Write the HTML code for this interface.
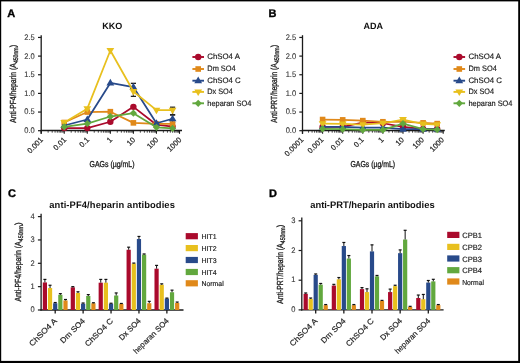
<!DOCTYPE html>
<html><head><meta charset="utf-8"><style>
html,body{margin:0;padding:0;background:#fff;width:520px;height:363px;overflow:hidden}
svg{display:block;will-change:transform;filter:blur(0.3px)}
text{font-family:"Liberation Sans",sans-serif;stroke:currentColor;stroke-width:0.18px;color:#222;text-rendering:geometricPrecision}
text[font-weight=bold]{stroke:none}
text.c{stroke-width:0.32px}
text.t{stroke-width:0.1px;color:#333}
</style></head><body>
<svg width="520" height="363" viewBox="0 0 520 363">
<rect x="0" y="0" width="520" height="363" fill="#000"/>
<rect x="1.2" y="1.4" width="517" height="359.5" fill="#fff"/>
<text x="7.2" y="16.9" font-size="11" font-weight="bold" fill="#000" style="stroke:#000;stroke-width:0.35px">A</text>
<text x="112.20" y="28.60" font-size="9" text-anchor="middle" font-weight="bold" fill="#111">KKO</text>
<line x1="41.20" y1="35.20" x2="41.20" y2="133.80" stroke="#1a1a1a" stroke-width="1.3"/>
<line x1="40.55" y1="130.50" x2="182.00" y2="130.50" stroke="#1a1a1a" stroke-width="1.3"/>
<line x1="38.00" y1="130.70" x2="41.20" y2="130.70" stroke="#1a1a1a" stroke-width="1.2"/>
<text x="34.80" y="133.10" font-size="8.1" text-anchor="end" fill="#333" textLength="10.47" lengthAdjust="spacingAndGlyphs" class="t">0.0</text>
<line x1="38.00" y1="112.05" x2="41.20" y2="112.05" stroke="#1a1a1a" stroke-width="1.2"/>
<text x="34.80" y="114.45" font-size="8.1" text-anchor="end" fill="#333" textLength="10.47" lengthAdjust="spacingAndGlyphs" class="t">0.5</text>
<line x1="38.00" y1="93.40" x2="41.20" y2="93.40" stroke="#1a1a1a" stroke-width="1.2"/>
<text x="34.80" y="95.80" font-size="8.1" text-anchor="end" fill="#333" textLength="10.47" lengthAdjust="spacingAndGlyphs" class="t">1.0</text>
<line x1="38.00" y1="74.75" x2="41.20" y2="74.75" stroke="#1a1a1a" stroke-width="1.2"/>
<text x="34.80" y="77.15" font-size="8.1" text-anchor="end" fill="#333" textLength="10.47" lengthAdjust="spacingAndGlyphs" class="t">1.5</text>
<line x1="38.00" y1="56.10" x2="41.20" y2="56.10" stroke="#1a1a1a" stroke-width="1.2"/>
<text x="34.80" y="58.50" font-size="8.1" text-anchor="end" fill="#333" textLength="10.47" lengthAdjust="spacingAndGlyphs" class="t">2.0</text>
<line x1="38.00" y1="37.45" x2="41.20" y2="37.45" stroke="#1a1a1a" stroke-width="1.2"/>
<text x="34.80" y="39.85" font-size="8.1" text-anchor="end" fill="#333" textLength="10.47" lengthAdjust="spacingAndGlyphs" class="t">2.5</text>
<line x1="41.20" y1="130.70" x2="41.20" y2="133.80" stroke="#1a1a1a" stroke-width="1.1"/>
<line x1="48.14" y1="130.70" x2="48.14" y2="132.70" stroke="#1a1a1a" stroke-width="0.8"/>
<line x1="52.20" y1="130.70" x2="52.20" y2="132.70" stroke="#1a1a1a" stroke-width="0.8"/>
<line x1="55.08" y1="130.70" x2="55.08" y2="132.70" stroke="#1a1a1a" stroke-width="0.8"/>
<line x1="57.31" y1="130.70" x2="57.31" y2="132.70" stroke="#1a1a1a" stroke-width="0.8"/>
<line x1="59.14" y1="130.70" x2="59.14" y2="132.70" stroke="#1a1a1a" stroke-width="0.8"/>
<line x1="60.68" y1="130.70" x2="60.68" y2="132.70" stroke="#1a1a1a" stroke-width="0.8"/>
<line x1="62.02" y1="130.70" x2="62.02" y2="132.70" stroke="#1a1a1a" stroke-width="0.8"/>
<line x1="63.20" y1="130.70" x2="63.20" y2="132.70" stroke="#1a1a1a" stroke-width="0.8"/>
<line x1="64.25" y1="130.70" x2="64.25" y2="133.80" stroke="#1a1a1a" stroke-width="1.1"/>
<line x1="71.19" y1="130.70" x2="71.19" y2="132.70" stroke="#1a1a1a" stroke-width="0.8"/>
<line x1="75.25" y1="130.70" x2="75.25" y2="132.70" stroke="#1a1a1a" stroke-width="0.8"/>
<line x1="78.13" y1="130.70" x2="78.13" y2="132.70" stroke="#1a1a1a" stroke-width="0.8"/>
<line x1="80.36" y1="130.70" x2="80.36" y2="132.70" stroke="#1a1a1a" stroke-width="0.8"/>
<line x1="82.19" y1="130.70" x2="82.19" y2="132.70" stroke="#1a1a1a" stroke-width="0.8"/>
<line x1="83.73" y1="130.70" x2="83.73" y2="132.70" stroke="#1a1a1a" stroke-width="0.8"/>
<line x1="85.07" y1="130.70" x2="85.07" y2="132.70" stroke="#1a1a1a" stroke-width="0.8"/>
<line x1="86.25" y1="130.70" x2="86.25" y2="132.70" stroke="#1a1a1a" stroke-width="0.8"/>
<line x1="87.30" y1="130.70" x2="87.30" y2="133.80" stroke="#1a1a1a" stroke-width="1.1"/>
<line x1="94.24" y1="130.70" x2="94.24" y2="132.70" stroke="#1a1a1a" stroke-width="0.8"/>
<line x1="98.30" y1="130.70" x2="98.30" y2="132.70" stroke="#1a1a1a" stroke-width="0.8"/>
<line x1="101.18" y1="130.70" x2="101.18" y2="132.70" stroke="#1a1a1a" stroke-width="0.8"/>
<line x1="103.41" y1="130.70" x2="103.41" y2="132.70" stroke="#1a1a1a" stroke-width="0.8"/>
<line x1="105.24" y1="130.70" x2="105.24" y2="132.70" stroke="#1a1a1a" stroke-width="0.8"/>
<line x1="106.78" y1="130.70" x2="106.78" y2="132.70" stroke="#1a1a1a" stroke-width="0.8"/>
<line x1="108.12" y1="130.70" x2="108.12" y2="132.70" stroke="#1a1a1a" stroke-width="0.8"/>
<line x1="109.30" y1="130.70" x2="109.30" y2="132.70" stroke="#1a1a1a" stroke-width="0.8"/>
<line x1="110.35" y1="130.70" x2="110.35" y2="133.80" stroke="#1a1a1a" stroke-width="1.1"/>
<line x1="117.29" y1="130.70" x2="117.29" y2="132.70" stroke="#1a1a1a" stroke-width="0.8"/>
<line x1="121.35" y1="130.70" x2="121.35" y2="132.70" stroke="#1a1a1a" stroke-width="0.8"/>
<line x1="124.23" y1="130.70" x2="124.23" y2="132.70" stroke="#1a1a1a" stroke-width="0.8"/>
<line x1="126.46" y1="130.70" x2="126.46" y2="132.70" stroke="#1a1a1a" stroke-width="0.8"/>
<line x1="128.29" y1="130.70" x2="128.29" y2="132.70" stroke="#1a1a1a" stroke-width="0.8"/>
<line x1="129.83" y1="130.70" x2="129.83" y2="132.70" stroke="#1a1a1a" stroke-width="0.8"/>
<line x1="131.17" y1="130.70" x2="131.17" y2="132.70" stroke="#1a1a1a" stroke-width="0.8"/>
<line x1="132.35" y1="130.70" x2="132.35" y2="132.70" stroke="#1a1a1a" stroke-width="0.8"/>
<line x1="133.40" y1="130.70" x2="133.40" y2="133.80" stroke="#1a1a1a" stroke-width="1.1"/>
<line x1="140.34" y1="130.70" x2="140.34" y2="132.70" stroke="#1a1a1a" stroke-width="0.8"/>
<line x1="144.40" y1="130.70" x2="144.40" y2="132.70" stroke="#1a1a1a" stroke-width="0.8"/>
<line x1="147.28" y1="130.70" x2="147.28" y2="132.70" stroke="#1a1a1a" stroke-width="0.8"/>
<line x1="149.51" y1="130.70" x2="149.51" y2="132.70" stroke="#1a1a1a" stroke-width="0.8"/>
<line x1="151.34" y1="130.70" x2="151.34" y2="132.70" stroke="#1a1a1a" stroke-width="0.8"/>
<line x1="152.88" y1="130.70" x2="152.88" y2="132.70" stroke="#1a1a1a" stroke-width="0.8"/>
<line x1="154.22" y1="130.70" x2="154.22" y2="132.70" stroke="#1a1a1a" stroke-width="0.8"/>
<line x1="155.40" y1="130.70" x2="155.40" y2="132.70" stroke="#1a1a1a" stroke-width="0.8"/>
<line x1="156.45" y1="130.70" x2="156.45" y2="133.80" stroke="#1a1a1a" stroke-width="1.1"/>
<line x1="163.39" y1="130.70" x2="163.39" y2="132.70" stroke="#1a1a1a" stroke-width="0.8"/>
<line x1="167.45" y1="130.70" x2="167.45" y2="132.70" stroke="#1a1a1a" stroke-width="0.8"/>
<line x1="170.33" y1="130.70" x2="170.33" y2="132.70" stroke="#1a1a1a" stroke-width="0.8"/>
<line x1="172.56" y1="130.70" x2="172.56" y2="132.70" stroke="#1a1a1a" stroke-width="0.8"/>
<line x1="174.39" y1="130.70" x2="174.39" y2="132.70" stroke="#1a1a1a" stroke-width="0.8"/>
<line x1="175.93" y1="130.70" x2="175.93" y2="132.70" stroke="#1a1a1a" stroke-width="0.8"/>
<line x1="177.27" y1="130.70" x2="177.27" y2="132.70" stroke="#1a1a1a" stroke-width="0.8"/>
<line x1="178.45" y1="130.70" x2="178.45" y2="132.70" stroke="#1a1a1a" stroke-width="0.8"/>
<line x1="179.50" y1="130.70" x2="179.50" y2="133.80" stroke="#1a1a1a" stroke-width="1.1"/>
<text transform="translate(43.60,140.30) rotate(-45)" font-size="7.6" text-anchor="end" fill="#222">0.001</text>
<text transform="translate(66.65,140.30) rotate(-45)" font-size="7.6" text-anchor="end" fill="#222">0.01</text>
<text transform="translate(89.70,140.30) rotate(-45)" font-size="7.6" text-anchor="end" fill="#222">0.1</text>
<text transform="translate(112.75,140.30) rotate(-45)" font-size="7.6" text-anchor="end" fill="#222">1</text>
<text transform="translate(135.80,140.30) rotate(-45)" font-size="7.6" text-anchor="end" fill="#222">10</text>
<text transform="translate(158.85,140.30) rotate(-45)" font-size="7.6" text-anchor="end" fill="#222">100</text>
<text transform="translate(181.90,140.30) rotate(-45)" font-size="7.6" text-anchor="end" fill="#222">1000</text>
<text x="89.50" y="167.2" font-size="8.6" fill="#222" class="c" textLength="45" lengthAdjust="spacingAndGlyphs">GAGs (µg/mL)</text>
<text transform="translate(15.80,122.80) rotate(-90)" font-size="8.8" fill="#222" class="c" textLength="59.50" lengthAdjust="spacingAndGlyphs">Anti-PF4/heparin (A</text>
<text transform="translate(17.60,63.10) rotate(-90)" font-size="6.6" fill="#222" class="c" textLength="15.70" lengthAdjust="spacingAndGlyphs">450nm</text>
<text transform="translate(15.80,47.20) rotate(-90)" font-size="8.8" fill="#222" class="c" textLength="2.60" lengthAdjust="spacingAndGlyphs">)</text>
<line x1="133.40" y1="96.38" x2="133.40" y2="83.33" stroke="#222" stroke-width="1.2"/>
<line x1="130.80" y1="96.38" x2="136.00" y2="96.38" stroke="#222" stroke-width="1.3"/>
<line x1="130.80" y1="83.33" x2="136.00" y2="83.33" stroke="#222" stroke-width="1.3"/>
<line x1="172.56" y1="114.66" x2="172.56" y2="107.20" stroke="#222" stroke-width="1.2"/>
<line x1="169.96" y1="114.66" x2="175.16" y2="114.66" stroke="#222" stroke-width="1.3"/>
<line x1="169.96" y1="107.20" x2="175.16" y2="107.20" stroke="#222" stroke-width="1.3"/>
<line x1="172.56" y1="122.49" x2="172.56" y2="115.03" stroke="#222" stroke-width="1.2"/>
<line x1="169.96" y1="122.49" x2="175.16" y2="122.49" stroke="#222" stroke-width="1.3"/>
<line x1="169.96" y1="115.03" x2="175.16" y2="115.03" stroke="#222" stroke-width="1.3"/>
<polyline points="64.25,128.09 87.30,128.09 110.35,121.75 133.40,106.83 156.45,124.73 172.56,126.60" fill="none" stroke="#aa0a2c" stroke-width="1.75" stroke-linejoin="round"/>
<circle cx="64.25" cy="128.09" r="3.20" fill="#aa0a2c"/>
<circle cx="87.30" cy="128.09" r="3.20" fill="#aa0a2c"/>
<circle cx="110.35" cy="121.75" r="3.20" fill="#aa0a2c"/>
<circle cx="133.40" cy="106.83" r="3.20" fill="#aa0a2c"/>
<circle cx="156.45" cy="124.73" r="3.20" fill="#aa0a2c"/>
<circle cx="172.56" cy="126.60" r="3.20" fill="#aa0a2c"/>
<polyline points="64.25,122.49 87.30,112.05 110.35,111.68 133.40,122.87 156.45,123.99 172.56,123.99" fill="none" stroke="#e0891a" stroke-width="1.75" stroke-linejoin="round"/>
<rect x="61.45" y="119.69" width="5.60" height="5.60" fill="#e0891a"/>
<rect x="84.50" y="109.25" width="5.60" height="5.60" fill="#e0891a"/>
<rect x="107.55" y="108.88" width="5.60" height="5.60" fill="#e0891a"/>
<rect x="130.60" y="120.07" width="5.60" height="5.60" fill="#e0891a"/>
<rect x="153.65" y="121.19" width="5.60" height="5.60" fill="#e0891a"/>
<rect x="169.76" y="121.19" width="5.60" height="5.60" fill="#e0891a"/>
<polyline points="64.25,125.48 87.30,119.51 110.35,82.96 133.40,87.06 156.45,123.24 172.56,118.76" fill="none" stroke="#284a8a" stroke-width="1.75" stroke-linejoin="round"/>
<polygon points="64.25,121.38 68.14,127.94 60.36,127.94" fill="#284a8a"/>
<polygon points="87.30,115.41 91.20,121.97 83.41,121.97" fill="#284a8a"/>
<polygon points="110.35,78.86 114.25,85.42 106.46,85.42" fill="#284a8a"/>
<polygon points="133.40,82.96 137.30,89.52 129.50,89.52" fill="#284a8a"/>
<polygon points="156.45,119.14 160.34,125.70 152.55,125.70" fill="#284a8a"/>
<polygon points="172.56,114.66 176.46,121.22 168.67,121.22" fill="#284a8a"/>
<polyline points="64.25,122.49 87.30,108.69 110.35,50.50 133.40,91.53 156.45,110.18 172.56,110.18" fill="none" stroke="#e8c01e" stroke-width="1.75" stroke-linejoin="round"/>
<polygon points="64.25,126.59 68.14,120.03 60.36,120.03" fill="#e8c01e"/>
<polygon points="87.30,112.79 91.20,106.23 83.41,106.23" fill="#e8c01e"/>
<polygon points="110.35,54.60 114.25,48.04 106.46,48.04" fill="#e8c01e"/>
<polygon points="133.40,95.63 137.30,89.08 129.50,89.08" fill="#e8c01e"/>
<polygon points="156.45,114.28 160.34,107.72 152.55,107.72" fill="#e8c01e"/>
<polygon points="172.56,114.28 176.46,107.72 168.67,107.72" fill="#e8c01e"/>
<polyline points="64.25,126.97 87.30,123.61 110.35,116.53 133.40,113.17 156.45,127.34 172.56,128.46" fill="none" stroke="#62a83e" stroke-width="1.75" stroke-linejoin="round"/>
<polygon points="64.25,123.37 67.85,126.97 64.25,130.57 60.65,126.97" fill="#62a83e"/>
<polygon points="87.30,120.01 90.90,123.61 87.30,127.21 83.70,123.61" fill="#62a83e"/>
<polygon points="110.35,112.93 113.95,116.53 110.35,120.13 106.75,116.53" fill="#62a83e"/>
<polygon points="133.40,109.57 137.00,113.17 133.40,116.77 129.80,113.17" fill="#62a83e"/>
<polygon points="156.45,123.74 160.05,127.34 156.45,130.94 152.85,127.34" fill="#62a83e"/>
<polygon points="172.56,124.86 176.16,128.46 172.56,132.06 168.96,128.46" fill="#62a83e"/>
<line x1="192.40" y1="57.00" x2="204.00" y2="57.00" stroke="#aa0a2c" stroke-width="1.9"/>
<circle cx="198.20" cy="57.00" r="3.20" fill="#aa0a2c"/>
<text x="207.30" y="59.30" font-size="7.9" text-anchor="start" fill="#222" textLength="32.60" lengthAdjust="spacingAndGlyphs">ChSO4 A</text>
<line x1="192.40" y1="69.00" x2="204.00" y2="69.00" stroke="#e0891a" stroke-width="1.9"/>
<rect x="195.40" y="66.20" width="5.60" height="5.60" fill="#e0891a"/>
<text x="207.30" y="71.30" font-size="7.9" text-anchor="start" fill="#222" textLength="28.30" lengthAdjust="spacingAndGlyphs">Dm SO4</text>
<line x1="192.40" y1="80.70" x2="204.00" y2="80.70" stroke="#284a8a" stroke-width="1.9"/>
<polygon points="198.20,76.60 202.09,83.16 194.30,83.16" fill="#284a8a"/>
<text x="207.30" y="83.00" font-size="7.9" text-anchor="start" fill="#222" textLength="33.30" lengthAdjust="spacingAndGlyphs">ChSO4 C</text>
<line x1="192.40" y1="91.90" x2="204.00" y2="91.90" stroke="#e8c01e" stroke-width="1.9"/>
<polygon points="198.20,96.00 202.09,89.44 194.30,89.44" fill="#e8c01e"/>
<text x="207.30" y="94.20" font-size="7.9" text-anchor="start" fill="#222" textLength="25.50" lengthAdjust="spacingAndGlyphs">Dx SO4</text>
<line x1="192.40" y1="103.30" x2="204.00" y2="103.30" stroke="#62a83e" stroke-width="1.9"/>
<polygon points="198.20,99.70 201.80,103.30 198.20,106.90 194.60,103.30" fill="#62a83e"/>
<text x="207.30" y="105.60" font-size="7.9" text-anchor="start" fill="#222" textLength="44.00" lengthAdjust="spacingAndGlyphs">heparan SO4</text>
<text x="268.6" y="16.9" font-size="11" font-weight="bold" fill="#000" style="stroke:#000;stroke-width:0.35px">B</text>
<text x="373.30" y="28.60" font-size="9" text-anchor="middle" font-weight="bold" fill="#111">ADA</text>
<line x1="302.50" y1="35.20" x2="302.50" y2="133.80" stroke="#1a1a1a" stroke-width="1.3"/>
<line x1="301.85" y1="130.50" x2="444.80" y2="130.50" stroke="#1a1a1a" stroke-width="1.3"/>
<line x1="299.30" y1="130.70" x2="302.50" y2="130.70" stroke="#1a1a1a" stroke-width="1.2"/>
<text x="296.10" y="133.10" font-size="8.1" text-anchor="end" fill="#333" textLength="10.47" lengthAdjust="spacingAndGlyphs" class="t">0.0</text>
<line x1="299.30" y1="112.05" x2="302.50" y2="112.05" stroke="#1a1a1a" stroke-width="1.2"/>
<text x="296.10" y="114.45" font-size="8.1" text-anchor="end" fill="#333" textLength="10.47" lengthAdjust="spacingAndGlyphs" class="t">0.5</text>
<line x1="299.30" y1="93.40" x2="302.50" y2="93.40" stroke="#1a1a1a" stroke-width="1.2"/>
<text x="296.10" y="95.80" font-size="8.1" text-anchor="end" fill="#333" textLength="10.47" lengthAdjust="spacingAndGlyphs" class="t">1.0</text>
<line x1="299.30" y1="74.75" x2="302.50" y2="74.75" stroke="#1a1a1a" stroke-width="1.2"/>
<text x="296.10" y="77.15" font-size="8.1" text-anchor="end" fill="#333" textLength="10.47" lengthAdjust="spacingAndGlyphs" class="t">1.5</text>
<line x1="299.30" y1="56.10" x2="302.50" y2="56.10" stroke="#1a1a1a" stroke-width="1.2"/>
<text x="296.10" y="58.50" font-size="8.1" text-anchor="end" fill="#333" textLength="10.47" lengthAdjust="spacingAndGlyphs" class="t">2.0</text>
<line x1="299.30" y1="37.45" x2="302.50" y2="37.45" stroke="#1a1a1a" stroke-width="1.2"/>
<text x="296.10" y="39.85" font-size="8.1" text-anchor="end" fill="#333" textLength="10.47" lengthAdjust="spacingAndGlyphs" class="t">2.5</text>
<line x1="302.50" y1="130.70" x2="302.50" y2="133.80" stroke="#1a1a1a" stroke-width="1.1"/>
<line x1="308.55" y1="130.70" x2="308.55" y2="132.70" stroke="#1a1a1a" stroke-width="0.8"/>
<line x1="312.09" y1="130.70" x2="312.09" y2="132.70" stroke="#1a1a1a" stroke-width="0.8"/>
<line x1="314.60" y1="130.70" x2="314.60" y2="132.70" stroke="#1a1a1a" stroke-width="0.8"/>
<line x1="316.55" y1="130.70" x2="316.55" y2="132.70" stroke="#1a1a1a" stroke-width="0.8"/>
<line x1="318.14" y1="130.70" x2="318.14" y2="132.70" stroke="#1a1a1a" stroke-width="0.8"/>
<line x1="319.49" y1="130.70" x2="319.49" y2="132.70" stroke="#1a1a1a" stroke-width="0.8"/>
<line x1="320.65" y1="130.70" x2="320.65" y2="132.70" stroke="#1a1a1a" stroke-width="0.8"/>
<line x1="321.68" y1="130.70" x2="321.68" y2="132.70" stroke="#1a1a1a" stroke-width="0.8"/>
<line x1="322.60" y1="130.70" x2="322.60" y2="133.80" stroke="#1a1a1a" stroke-width="1.1"/>
<line x1="328.65" y1="130.70" x2="328.65" y2="132.70" stroke="#1a1a1a" stroke-width="0.8"/>
<line x1="332.19" y1="130.70" x2="332.19" y2="132.70" stroke="#1a1a1a" stroke-width="0.8"/>
<line x1="334.70" y1="130.70" x2="334.70" y2="132.70" stroke="#1a1a1a" stroke-width="0.8"/>
<line x1="336.65" y1="130.70" x2="336.65" y2="132.70" stroke="#1a1a1a" stroke-width="0.8"/>
<line x1="338.24" y1="130.70" x2="338.24" y2="132.70" stroke="#1a1a1a" stroke-width="0.8"/>
<line x1="339.59" y1="130.70" x2="339.59" y2="132.70" stroke="#1a1a1a" stroke-width="0.8"/>
<line x1="340.75" y1="130.70" x2="340.75" y2="132.70" stroke="#1a1a1a" stroke-width="0.8"/>
<line x1="341.78" y1="130.70" x2="341.78" y2="132.70" stroke="#1a1a1a" stroke-width="0.8"/>
<line x1="342.70" y1="130.70" x2="342.70" y2="133.80" stroke="#1a1a1a" stroke-width="1.1"/>
<line x1="348.75" y1="130.70" x2="348.75" y2="132.70" stroke="#1a1a1a" stroke-width="0.8"/>
<line x1="352.29" y1="130.70" x2="352.29" y2="132.70" stroke="#1a1a1a" stroke-width="0.8"/>
<line x1="354.80" y1="130.70" x2="354.80" y2="132.70" stroke="#1a1a1a" stroke-width="0.8"/>
<line x1="356.75" y1="130.70" x2="356.75" y2="132.70" stroke="#1a1a1a" stroke-width="0.8"/>
<line x1="358.34" y1="130.70" x2="358.34" y2="132.70" stroke="#1a1a1a" stroke-width="0.8"/>
<line x1="359.69" y1="130.70" x2="359.69" y2="132.70" stroke="#1a1a1a" stroke-width="0.8"/>
<line x1="360.85" y1="130.70" x2="360.85" y2="132.70" stroke="#1a1a1a" stroke-width="0.8"/>
<line x1="361.88" y1="130.70" x2="361.88" y2="132.70" stroke="#1a1a1a" stroke-width="0.8"/>
<line x1="362.80" y1="130.70" x2="362.80" y2="133.80" stroke="#1a1a1a" stroke-width="1.1"/>
<line x1="368.85" y1="130.70" x2="368.85" y2="132.70" stroke="#1a1a1a" stroke-width="0.8"/>
<line x1="372.39" y1="130.70" x2="372.39" y2="132.70" stroke="#1a1a1a" stroke-width="0.8"/>
<line x1="374.90" y1="130.70" x2="374.90" y2="132.70" stroke="#1a1a1a" stroke-width="0.8"/>
<line x1="376.85" y1="130.70" x2="376.85" y2="132.70" stroke="#1a1a1a" stroke-width="0.8"/>
<line x1="378.44" y1="130.70" x2="378.44" y2="132.70" stroke="#1a1a1a" stroke-width="0.8"/>
<line x1="379.79" y1="130.70" x2="379.79" y2="132.70" stroke="#1a1a1a" stroke-width="0.8"/>
<line x1="380.95" y1="130.70" x2="380.95" y2="132.70" stroke="#1a1a1a" stroke-width="0.8"/>
<line x1="381.98" y1="130.70" x2="381.98" y2="132.70" stroke="#1a1a1a" stroke-width="0.8"/>
<line x1="382.90" y1="130.70" x2="382.90" y2="133.80" stroke="#1a1a1a" stroke-width="1.1"/>
<line x1="388.95" y1="130.70" x2="388.95" y2="132.70" stroke="#1a1a1a" stroke-width="0.8"/>
<line x1="392.49" y1="130.70" x2="392.49" y2="132.70" stroke="#1a1a1a" stroke-width="0.8"/>
<line x1="395.00" y1="130.70" x2="395.00" y2="132.70" stroke="#1a1a1a" stroke-width="0.8"/>
<line x1="396.95" y1="130.70" x2="396.95" y2="132.70" stroke="#1a1a1a" stroke-width="0.8"/>
<line x1="398.54" y1="130.70" x2="398.54" y2="132.70" stroke="#1a1a1a" stroke-width="0.8"/>
<line x1="399.89" y1="130.70" x2="399.89" y2="132.70" stroke="#1a1a1a" stroke-width="0.8"/>
<line x1="401.05" y1="130.70" x2="401.05" y2="132.70" stroke="#1a1a1a" stroke-width="0.8"/>
<line x1="402.08" y1="130.70" x2="402.08" y2="132.70" stroke="#1a1a1a" stroke-width="0.8"/>
<line x1="403.00" y1="130.70" x2="403.00" y2="133.80" stroke="#1a1a1a" stroke-width="1.1"/>
<line x1="409.05" y1="130.70" x2="409.05" y2="132.70" stroke="#1a1a1a" stroke-width="0.8"/>
<line x1="412.59" y1="130.70" x2="412.59" y2="132.70" stroke="#1a1a1a" stroke-width="0.8"/>
<line x1="415.10" y1="130.70" x2="415.10" y2="132.70" stroke="#1a1a1a" stroke-width="0.8"/>
<line x1="417.05" y1="130.70" x2="417.05" y2="132.70" stroke="#1a1a1a" stroke-width="0.8"/>
<line x1="418.64" y1="130.70" x2="418.64" y2="132.70" stroke="#1a1a1a" stroke-width="0.8"/>
<line x1="419.99" y1="130.70" x2="419.99" y2="132.70" stroke="#1a1a1a" stroke-width="0.8"/>
<line x1="421.15" y1="130.70" x2="421.15" y2="132.70" stroke="#1a1a1a" stroke-width="0.8"/>
<line x1="422.18" y1="130.70" x2="422.18" y2="132.70" stroke="#1a1a1a" stroke-width="0.8"/>
<line x1="423.10" y1="130.70" x2="423.10" y2="133.80" stroke="#1a1a1a" stroke-width="1.1"/>
<line x1="429.15" y1="130.70" x2="429.15" y2="132.70" stroke="#1a1a1a" stroke-width="0.8"/>
<line x1="432.69" y1="130.70" x2="432.69" y2="132.70" stroke="#1a1a1a" stroke-width="0.8"/>
<line x1="435.20" y1="130.70" x2="435.20" y2="132.70" stroke="#1a1a1a" stroke-width="0.8"/>
<line x1="437.15" y1="130.70" x2="437.15" y2="132.70" stroke="#1a1a1a" stroke-width="0.8"/>
<line x1="438.74" y1="130.70" x2="438.74" y2="132.70" stroke="#1a1a1a" stroke-width="0.8"/>
<line x1="440.09" y1="130.70" x2="440.09" y2="132.70" stroke="#1a1a1a" stroke-width="0.8"/>
<line x1="441.25" y1="130.70" x2="441.25" y2="132.70" stroke="#1a1a1a" stroke-width="0.8"/>
<line x1="442.28" y1="130.70" x2="442.28" y2="132.70" stroke="#1a1a1a" stroke-width="0.8"/>
<line x1="443.20" y1="130.70" x2="443.20" y2="133.80" stroke="#1a1a1a" stroke-width="1.1"/>
<text transform="translate(303.90,140.30) rotate(-45)" font-size="7.6" text-anchor="end" fill="#222">0.0001</text>
<text transform="translate(324.00,140.30) rotate(-45)" font-size="7.6" text-anchor="end" fill="#222">0.001</text>
<text transform="translate(344.10,140.30) rotate(-45)" font-size="7.6" text-anchor="end" fill="#222">0.01</text>
<text transform="translate(364.20,140.30) rotate(-45)" font-size="7.6" text-anchor="end" fill="#222">0.1</text>
<text transform="translate(384.30,140.30) rotate(-45)" font-size="7.6" text-anchor="end" fill="#222">1</text>
<text transform="translate(404.40,140.30) rotate(-45)" font-size="7.6" text-anchor="end" fill="#222">10</text>
<text transform="translate(424.50,140.30) rotate(-45)" font-size="7.6" text-anchor="end" fill="#222">100</text>
<text transform="translate(444.60,140.30) rotate(-45)" font-size="7.6" text-anchor="end" fill="#222">1000</text>
<text x="350.50" y="167.2" font-size="8.6" fill="#222" class="c" textLength="44.6" lengthAdjust="spacingAndGlyphs">GAGs (µg/mL)</text>
<text transform="translate(277.10,122.80) rotate(-90)" font-size="8.8" fill="#222" class="c" textLength="59.50" lengthAdjust="spacingAndGlyphs">Anti-PRT/heparin (A</text>
<text transform="translate(278.90,63.10) rotate(-90)" font-size="6.6" fill="#222" class="c" textLength="15.70" lengthAdjust="spacingAndGlyphs">450nm</text>
<text transform="translate(277.10,47.20) rotate(-90)" font-size="8.8" fill="#222" class="c" textLength="2.60" lengthAdjust="spacingAndGlyphs">)</text>
<polyline points="322.60,126.97 342.70,126.97 362.80,122.49 382.90,123.24 403.00,126.97 423.10,128.83 437.15,128.83" fill="none" stroke="#aa0a2c" stroke-width="1.75" stroke-linejoin="round"/>
<circle cx="322.60" cy="126.97" r="3.20" fill="#aa0a2c"/>
<circle cx="342.70" cy="126.97" r="3.20" fill="#aa0a2c"/>
<circle cx="362.80" cy="122.49" r="3.20" fill="#aa0a2c"/>
<circle cx="382.90" cy="123.24" r="3.20" fill="#aa0a2c"/>
<circle cx="403.00" cy="126.97" r="3.20" fill="#aa0a2c"/>
<circle cx="423.10" cy="128.83" r="3.20" fill="#aa0a2c"/>
<circle cx="437.15" cy="128.83" r="3.20" fill="#aa0a2c"/>
<polyline points="322.60,119.51 342.70,119.88 362.80,120.63 382.90,121.75 403.00,121.75 423.10,122.87 437.15,123.61" fill="none" stroke="#e0891a" stroke-width="1.75" stroke-linejoin="round"/>
<rect x="319.80" y="116.71" width="5.60" height="5.60" fill="#e0891a"/>
<rect x="339.90" y="117.08" width="5.60" height="5.60" fill="#e0891a"/>
<rect x="360.00" y="117.83" width="5.60" height="5.60" fill="#e0891a"/>
<rect x="380.10" y="118.95" width="5.60" height="5.60" fill="#e0891a"/>
<rect x="400.20" y="118.95" width="5.60" height="5.60" fill="#e0891a"/>
<rect x="420.30" y="120.07" width="5.60" height="5.60" fill="#e0891a"/>
<rect x="434.35" y="120.81" width="5.60" height="5.60" fill="#e0891a"/>
<polyline points="322.60,126.97 342.70,126.97 362.80,127.53 382.90,127.72 403.00,129.21 423.10,129.21 437.15,129.21" fill="none" stroke="#284a8a" stroke-width="1.75" stroke-linejoin="round"/>
<polygon points="322.60,122.87 326.50,129.43 318.71,129.43" fill="#284a8a"/>
<polygon points="342.70,122.87 346.59,129.43 338.81,129.43" fill="#284a8a"/>
<polygon points="362.80,123.43 366.69,129.99 358.91,129.99" fill="#284a8a"/>
<polygon points="382.90,123.62 386.79,130.18 379.00,130.18" fill="#284a8a"/>
<polygon points="403.00,125.11 406.89,131.67 399.11,131.67" fill="#284a8a"/>
<polygon points="423.10,125.11 427.00,131.67 419.21,131.67" fill="#284a8a"/>
<polygon points="437.15,125.11 441.04,131.67 433.25,131.67" fill="#284a8a"/>
<polyline points="322.60,123.61 342.70,123.99 362.80,124.73 382.90,123.24 403.00,119.51 423.10,123.99 437.15,124.73" fill="none" stroke="#e8c01e" stroke-width="1.75" stroke-linejoin="round"/>
<polygon points="322.60,127.71 326.50,121.15 318.71,121.15" fill="#e8c01e"/>
<polygon points="342.70,128.09 346.59,121.53 338.81,121.53" fill="#e8c01e"/>
<polygon points="362.80,128.83 366.69,122.27 358.91,122.27" fill="#e8c01e"/>
<polygon points="382.90,127.34 386.79,120.78 379.00,120.78" fill="#e8c01e"/>
<polygon points="403.00,123.61 406.89,117.05 399.11,117.05" fill="#e8c01e"/>
<polygon points="423.10,128.09 427.00,121.53 419.21,121.53" fill="#e8c01e"/>
<polygon points="437.15,128.83 441.04,122.27 433.25,122.27" fill="#e8c01e"/>
<polyline points="322.60,128.83 342.70,129.21 362.80,129.95 382.90,129.95 403.00,123.61 423.10,129.21 437.15,129.58" fill="none" stroke="#62a83e" stroke-width="1.75" stroke-linejoin="round"/>
<polygon points="322.60,125.23 326.20,128.83 322.60,132.43 319.00,128.83" fill="#62a83e"/>
<polygon points="342.70,125.61 346.30,129.21 342.70,132.81 339.10,129.21" fill="#62a83e"/>
<polygon points="362.80,126.35 366.40,129.95 362.80,133.55 359.20,129.95" fill="#62a83e"/>
<polygon points="382.90,126.35 386.50,129.95 382.90,133.55 379.30,129.95" fill="#62a83e"/>
<polygon points="403.00,120.01 406.60,123.61 403.00,127.21 399.40,123.61" fill="#62a83e"/>
<polygon points="423.10,125.61 426.70,129.21 423.10,132.81 419.50,129.21" fill="#62a83e"/>
<polygon points="437.15,125.98 440.75,129.58 437.15,133.18 433.55,129.58" fill="#62a83e"/>
<line x1="453.50" y1="57.00" x2="465.10" y2="57.00" stroke="#aa0a2c" stroke-width="1.9"/>
<circle cx="459.30" cy="57.00" r="3.20" fill="#aa0a2c"/>
<text x="468.50" y="59.30" font-size="7.9" text-anchor="start" fill="#222" textLength="32.60" lengthAdjust="spacingAndGlyphs">ChSO4 A</text>
<line x1="453.50" y1="69.00" x2="465.10" y2="69.00" stroke="#e0891a" stroke-width="1.9"/>
<rect x="456.50" y="66.20" width="5.60" height="5.60" fill="#e0891a"/>
<text x="468.50" y="71.30" font-size="7.9" text-anchor="start" fill="#222" textLength="28.30" lengthAdjust="spacingAndGlyphs">Dm SO4</text>
<line x1="453.50" y1="80.70" x2="465.10" y2="80.70" stroke="#284a8a" stroke-width="1.9"/>
<polygon points="459.30,76.60 463.19,83.16 455.41,83.16" fill="#284a8a"/>
<text x="468.50" y="83.00" font-size="7.9" text-anchor="start" fill="#222" textLength="33.30" lengthAdjust="spacingAndGlyphs">ChSO4 C</text>
<line x1="453.50" y1="91.90" x2="465.10" y2="91.90" stroke="#e8c01e" stroke-width="1.9"/>
<polygon points="459.30,96.00 463.19,89.44 455.41,89.44" fill="#e8c01e"/>
<text x="468.50" y="94.20" font-size="7.9" text-anchor="start" fill="#222" textLength="25.50" lengthAdjust="spacingAndGlyphs">Dx SO4</text>
<line x1="453.50" y1="103.30" x2="465.10" y2="103.30" stroke="#62a83e" stroke-width="1.9"/>
<polygon points="459.30,99.70 462.90,103.30 459.30,106.90 455.70,103.30" fill="#62a83e"/>
<text x="468.50" y="105.60" font-size="7.9" text-anchor="start" fill="#222" textLength="44.00" lengthAdjust="spacingAndGlyphs">heparan SO4</text>
<text x="8.1" y="197.4" font-size="11" font-weight="bold" fill="#000" style="stroke:#000;stroke-width:0.35px">C</text>
<text x="49.3" y="208.2" font-size="9.4" font-weight="bold" fill="#111" textLength="125.6" lengthAdjust="spacing" style="stroke:none">anti-PF4/heparin antibodies</text>
<line x1="41.10" y1="213.80" x2="41.10" y2="310.60" stroke="#1a1a1a" stroke-width="1.3"/>
<line x1="40.45" y1="310.00" x2="183.50" y2="310.00" stroke="#1a1a1a" stroke-width="1.3"/>
<line x1="37.90" y1="310.00" x2="41.10" y2="310.00" stroke="#1a1a1a" stroke-width="1.2"/>
<text x="34.70" y="312.20" font-size="8.1" text-anchor="end" fill="#333" textLength="4.19" lengthAdjust="spacingAndGlyphs" class="t">0</text>
<line x1="37.90" y1="286.65" x2="41.10" y2="286.65" stroke="#1a1a1a" stroke-width="1.2"/>
<text x="34.70" y="288.85" font-size="8.1" text-anchor="end" fill="#333" textLength="4.19" lengthAdjust="spacingAndGlyphs" class="t">1</text>
<line x1="37.90" y1="263.30" x2="41.10" y2="263.30" stroke="#1a1a1a" stroke-width="1.2"/>
<text x="34.70" y="265.50" font-size="8.1" text-anchor="end" fill="#333" textLength="4.19" lengthAdjust="spacingAndGlyphs" class="t">2</text>
<line x1="37.90" y1="239.95" x2="41.10" y2="239.95" stroke="#1a1a1a" stroke-width="1.2"/>
<text x="34.70" y="242.15" font-size="8.1" text-anchor="end" fill="#333" textLength="4.19" lengthAdjust="spacingAndGlyphs" class="t">3</text>
<line x1="37.90" y1="216.60" x2="41.10" y2="216.60" stroke="#1a1a1a" stroke-width="1.2"/>
<text x="34.70" y="218.80" font-size="8.1" text-anchor="end" fill="#333" textLength="4.19" lengthAdjust="spacingAndGlyphs" class="t">4</text>
<rect x="42.80" y="282.45" width="4.2" height="27.55" fill="#aa0a2c"/>
<line x1="44.90" y1="282.45" x2="44.90" y2="279.41" stroke="#111" stroke-width="1.0"/>
<line x1="43.40" y1="279.41" x2="46.40" y2="279.41" stroke="#111" stroke-width="1.2"/>
<rect x="47.95" y="288.05" width="4.2" height="21.95" fill="#e8c01e"/>
<line x1="50.05" y1="288.05" x2="50.05" y2="285.25" stroke="#111" stroke-width="1.0"/>
<line x1="48.55" y1="285.25" x2="51.55" y2="285.25" stroke="#111" stroke-width="1.2"/>
<rect x="53.10" y="303.23" width="4.2" height="6.77" fill="#284a8a"/>
<line x1="55.20" y1="303.23" x2="55.20" y2="302.53" stroke="#111" stroke-width="1.0"/>
<line x1="53.70" y1="302.53" x2="56.70" y2="302.53" stroke="#111" stroke-width="1.2"/>
<rect x="58.25" y="294.82" width="4.2" height="15.18" fill="#62a83e"/>
<line x1="60.35" y1="294.82" x2="60.35" y2="293.65" stroke="#111" stroke-width="1.0"/>
<line x1="58.85" y1="293.65" x2="61.85" y2="293.65" stroke="#111" stroke-width="1.2"/>
<rect x="63.40" y="300.43" width="4.2" height="9.57" fill="#e0891a"/>
<line x1="65.50" y1="300.43" x2="65.50" y2="299.49" stroke="#111" stroke-width="1.0"/>
<line x1="64.00" y1="299.49" x2="67.00" y2="299.49" stroke="#111" stroke-width="1.2"/>
<line x1="55.20" y1="310.00" x2="55.20" y2="313.60" stroke="#1a1a1a" stroke-width="1.3"/>
<text transform="translate(57.60,321.50) rotate(-45)" font-size="7.8" text-anchor="end" fill="#222" textLength="35.77" lengthAdjust="spacingAndGlyphs">ChSO4 A</text>
<rect x="70.72" y="287.35" width="4.2" height="22.65" fill="#aa0a2c"/>
<line x1="72.82" y1="287.35" x2="72.82" y2="286.65" stroke="#111" stroke-width="1.0"/>
<line x1="71.32" y1="286.65" x2="74.32" y2="286.65" stroke="#111" stroke-width="1.2"/>
<rect x="75.87" y="292.95" width="4.2" height="17.05" fill="#e8c01e"/>
<line x1="77.97" y1="292.95" x2="77.97" y2="291.79" stroke="#111" stroke-width="1.0"/>
<line x1="76.47" y1="291.79" x2="79.47" y2="291.79" stroke="#111" stroke-width="1.2"/>
<rect x="81.02" y="303.70" width="4.2" height="6.30" fill="#284a8a"/>
<line x1="83.12" y1="303.70" x2="83.12" y2="303.00" stroke="#111" stroke-width="1.0"/>
<line x1="81.62" y1="303.00" x2="84.62" y2="303.00" stroke="#111" stroke-width="1.2"/>
<rect x="86.17" y="295.99" width="4.2" height="14.01" fill="#62a83e"/>
<line x1="88.27" y1="295.99" x2="88.27" y2="294.59" stroke="#111" stroke-width="1.0"/>
<line x1="86.77" y1="294.59" x2="89.77" y2="294.59" stroke="#111" stroke-width="1.2"/>
<rect x="91.32" y="303.23" width="4.2" height="6.77" fill="#e0891a"/>
<line x1="93.42" y1="303.23" x2="93.42" y2="302.76" stroke="#111" stroke-width="1.0"/>
<line x1="91.92" y1="302.76" x2="94.92" y2="302.76" stroke="#111" stroke-width="1.2"/>
<line x1="83.12" y1="310.00" x2="83.12" y2="313.60" stroke="#1a1a1a" stroke-width="1.3"/>
<text transform="translate(85.52,321.50) rotate(-45)" font-size="7.8" text-anchor="end" fill="#222" textLength="31.40" lengthAdjust="spacingAndGlyphs">Dm SO4</text>
<rect x="98.64" y="282.68" width="4.2" height="27.32" fill="#aa0a2c"/>
<line x1="100.74" y1="282.68" x2="100.74" y2="279.41" stroke="#111" stroke-width="1.0"/>
<line x1="99.24" y1="279.41" x2="102.24" y2="279.41" stroke="#111" stroke-width="1.2"/>
<rect x="103.79" y="282.68" width="4.2" height="27.32" fill="#e8c01e"/>
<line x1="105.89" y1="282.68" x2="105.89" y2="279.41" stroke="#111" stroke-width="1.0"/>
<line x1="104.39" y1="279.41" x2="107.39" y2="279.41" stroke="#111" stroke-width="1.2"/>
<rect x="108.94" y="303.70" width="4.2" height="6.30" fill="#284a8a"/>
<line x1="111.04" y1="303.70" x2="111.04" y2="303.23" stroke="#111" stroke-width="1.0"/>
<line x1="109.54" y1="303.23" x2="112.54" y2="303.23" stroke="#111" stroke-width="1.2"/>
<rect x="114.09" y="295.52" width="4.2" height="14.48" fill="#62a83e"/>
<line x1="116.19" y1="295.52" x2="116.19" y2="292.95" stroke="#111" stroke-width="1.0"/>
<line x1="114.69" y1="292.95" x2="117.69" y2="292.95" stroke="#111" stroke-width="1.2"/>
<rect x="119.24" y="303.93" width="4.2" height="6.07" fill="#e0891a"/>
<line x1="121.34" y1="303.93" x2="121.34" y2="303.46" stroke="#111" stroke-width="1.0"/>
<line x1="119.84" y1="303.46" x2="122.84" y2="303.46" stroke="#111" stroke-width="1.2"/>
<line x1="111.04" y1="310.00" x2="111.04" y2="313.60" stroke="#1a1a1a" stroke-width="1.3"/>
<text transform="translate(113.44,321.50) rotate(-45)" font-size="7.8" text-anchor="end" fill="#222" textLength="36.05" lengthAdjust="spacingAndGlyphs">ChSO4 C</text>
<rect x="126.56" y="249.76" width="4.2" height="60.24" fill="#aa0a2c"/>
<line x1="128.66" y1="249.76" x2="128.66" y2="247.19" stroke="#111" stroke-width="1.0"/>
<line x1="127.16" y1="247.19" x2="130.16" y2="247.19" stroke="#111" stroke-width="1.2"/>
<rect x="131.71" y="263.53" width="4.2" height="46.47" fill="#e8c01e"/>
<line x1="133.81" y1="263.53" x2="133.81" y2="263.07" stroke="#111" stroke-width="1.0"/>
<line x1="132.31" y1="263.07" x2="135.31" y2="263.07" stroke="#111" stroke-width="1.2"/>
<rect x="136.86" y="239.02" width="4.2" height="70.98" fill="#284a8a"/>
<line x1="138.96" y1="239.02" x2="138.96" y2="236.45" stroke="#111" stroke-width="1.0"/>
<line x1="137.46" y1="236.45" x2="140.46" y2="236.45" stroke="#111" stroke-width="1.2"/>
<rect x="142.01" y="254.66" width="4.2" height="55.34" fill="#62a83e"/>
<line x1="144.11" y1="254.66" x2="144.11" y2="253.96" stroke="#111" stroke-width="1.0"/>
<line x1="142.61" y1="253.96" x2="145.61" y2="253.96" stroke="#111" stroke-width="1.2"/>
<rect x="147.16" y="303.23" width="4.2" height="6.77" fill="#e0891a"/>
<line x1="149.26" y1="303.23" x2="149.26" y2="301.36" stroke="#111" stroke-width="1.0"/>
<line x1="147.76" y1="301.36" x2="150.76" y2="301.36" stroke="#111" stroke-width="1.2"/>
<line x1="138.96" y1="310.00" x2="138.96" y2="313.60" stroke="#1a1a1a" stroke-width="1.3"/>
<text transform="translate(141.36,321.50) rotate(-45)" font-size="7.8" text-anchor="end" fill="#222" textLength="27.31" lengthAdjust="spacingAndGlyphs">Dx SO4</text>
<rect x="154.48" y="268.67" width="4.2" height="41.33" fill="#aa0a2c"/>
<line x1="156.58" y1="268.67" x2="156.58" y2="265.40" stroke="#111" stroke-width="1.0"/>
<line x1="155.08" y1="265.40" x2="158.08" y2="265.40" stroke="#111" stroke-width="1.2"/>
<rect x="159.63" y="284.78" width="4.2" height="25.22" fill="#e8c01e"/>
<line x1="161.73" y1="284.78" x2="161.73" y2="283.85" stroke="#111" stroke-width="1.0"/>
<line x1="160.23" y1="283.85" x2="163.23" y2="283.85" stroke="#111" stroke-width="1.2"/>
<rect x="164.78" y="298.56" width="4.2" height="11.44" fill="#284a8a"/>
<line x1="166.88" y1="298.56" x2="166.88" y2="298.09" stroke="#111" stroke-width="1.0"/>
<line x1="165.38" y1="298.09" x2="168.38" y2="298.09" stroke="#111" stroke-width="1.2"/>
<rect x="169.93" y="292.25" width="4.2" height="17.75" fill="#62a83e"/>
<line x1="172.03" y1="292.25" x2="172.03" y2="290.15" stroke="#111" stroke-width="1.0"/>
<line x1="170.53" y1="290.15" x2="173.53" y2="290.15" stroke="#111" stroke-width="1.2"/>
<rect x="175.08" y="303.00" width="4.2" height="7.00" fill="#e0891a"/>
<line x1="177.18" y1="303.00" x2="177.18" y2="302.06" stroke="#111" stroke-width="1.0"/>
<line x1="175.68" y1="302.06" x2="178.68" y2="302.06" stroke="#111" stroke-width="1.2"/>
<line x1="166.88" y1="310.00" x2="166.88" y2="313.60" stroke="#1a1a1a" stroke-width="1.3"/>
<text transform="translate(169.28,321.50) rotate(-45)" font-size="7.8" text-anchor="end" fill="#222" textLength="46.40" lengthAdjust="spacingAndGlyphs">heparan SO4</text>
<text transform="translate(21.10,301.60) rotate(-90)" font-size="8.8" fill="#222" class="c" textLength="60.26" lengthAdjust="spacingAndGlyphs">Anti-PF4/heparin (A</text>
<text transform="translate(22.90,241.14) rotate(-90)" font-size="6.6" fill="#222" class="c" textLength="15.90" lengthAdjust="spacingAndGlyphs">450nm</text>
<text transform="translate(21.10,225.04) rotate(-90)" font-size="8.8" fill="#222" class="c" textLength="2.63" lengthAdjust="spacingAndGlyphs">)</text>
<rect x="185.7" y="233.1" width="12.2" height="6.2" fill="#aa0a2c"/>
<text x="201.50" y="239.20" font-size="7" text-anchor="start" fill="#222" textLength="15.10" lengthAdjust="spacingAndGlyphs">HIT1</text>
<rect x="185.7" y="245" width="12.2" height="6.2" fill="#e8c01e"/>
<text x="201.50" y="251.10" font-size="7" text-anchor="start" fill="#222" textLength="15.10" lengthAdjust="spacingAndGlyphs">HIT2</text>
<rect x="185.7" y="256.9" width="12.2" height="6.2" fill="#284a8a"/>
<text x="201.50" y="263.00" font-size="7" text-anchor="start" fill="#222" textLength="15.10" lengthAdjust="spacingAndGlyphs">HIT3</text>
<rect x="185.7" y="268.9" width="12.2" height="6.2" fill="#62a83e"/>
<text x="201.50" y="275.00" font-size="7" text-anchor="start" fill="#222" textLength="15.10" lengthAdjust="spacingAndGlyphs">HIT4</text>
<rect x="185.7" y="280.2" width="12.2" height="6.2" fill="#e0891a"/>
<text x="201.50" y="286.30" font-size="7" text-anchor="start" fill="#222" textLength="22.20" lengthAdjust="spacingAndGlyphs">Normal</text>
<text x="268.9" y="197.4" font-size="11" font-weight="bold" fill="#000" style="stroke:#000;stroke-width:0.35px">D</text>
<text x="310.2" y="208.2" font-size="9.4" font-weight="bold" fill="#111" textLength="124.4" lengthAdjust="spacing" style="stroke:none">anti-PRT/heparin antibodies</text>
<line x1="301.80" y1="217.40" x2="301.80" y2="310.50" stroke="#1a1a1a" stroke-width="1.3"/>
<line x1="301.15" y1="309.90" x2="443.60" y2="309.90" stroke="#1a1a1a" stroke-width="1.3"/>
<line x1="298.60" y1="309.90" x2="301.80" y2="309.90" stroke="#1a1a1a" stroke-width="1.2"/>
<text x="295.40" y="312.10" font-size="8.1" text-anchor="end" fill="#333" textLength="4.19" lengthAdjust="spacingAndGlyphs" class="t">0</text>
<line x1="298.60" y1="280.20" x2="301.80" y2="280.20" stroke="#1a1a1a" stroke-width="1.2"/>
<text x="295.40" y="282.40" font-size="8.1" text-anchor="end" fill="#333" textLength="4.19" lengthAdjust="spacingAndGlyphs" class="t">1</text>
<line x1="298.60" y1="250.50" x2="301.80" y2="250.50" stroke="#1a1a1a" stroke-width="1.2"/>
<text x="295.40" y="252.70" font-size="8.1" text-anchor="end" fill="#333" textLength="4.19" lengthAdjust="spacingAndGlyphs" class="t">2</text>
<line x1="298.60" y1="220.80" x2="301.80" y2="220.80" stroke="#1a1a1a" stroke-width="1.2"/>
<text x="295.40" y="223.00" font-size="8.1" text-anchor="end" fill="#333" textLength="4.19" lengthAdjust="spacingAndGlyphs" class="t">3</text>
<rect x="303.60" y="293.86" width="4.2" height="16.04" fill="#aa0a2c"/>
<line x1="305.70" y1="293.86" x2="305.70" y2="292.97" stroke="#111" stroke-width="1.0"/>
<line x1="304.20" y1="292.97" x2="307.20" y2="292.97" stroke="#111" stroke-width="1.2"/>
<rect x="308.60" y="298.91" width="4.2" height="10.99" fill="#e8c01e"/>
<line x1="310.70" y1="298.91" x2="310.70" y2="298.02" stroke="#111" stroke-width="1.0"/>
<line x1="309.20" y1="298.02" x2="312.20" y2="298.02" stroke="#111" stroke-width="1.2"/>
<rect x="313.60" y="274.85" width="4.2" height="35.05" fill="#284a8a"/>
<line x1="315.70" y1="274.85" x2="315.70" y2="273.96" stroke="#111" stroke-width="1.0"/>
<line x1="314.20" y1="273.96" x2="317.20" y2="273.96" stroke="#111" stroke-width="1.2"/>
<rect x="318.60" y="284.65" width="4.2" height="25.24" fill="#62a83e"/>
<line x1="320.70" y1="284.65" x2="320.70" y2="283.47" stroke="#111" stroke-width="1.0"/>
<line x1="319.20" y1="283.47" x2="322.20" y2="283.47" stroke="#111" stroke-width="1.2"/>
<rect x="323.60" y="305.15" width="4.2" height="4.75" fill="#e0891a"/>
<line x1="325.70" y1="305.15" x2="325.70" y2="304.55" stroke="#111" stroke-width="1.0"/>
<line x1="324.20" y1="304.55" x2="327.20" y2="304.55" stroke="#111" stroke-width="1.2"/>
<line x1="315.70" y1="309.90" x2="315.70" y2="313.50" stroke="#1a1a1a" stroke-width="1.3"/>
<text transform="translate(318.10,321.50) rotate(-45)" font-size="7.8" text-anchor="end" fill="#222" textLength="35.77" lengthAdjust="spacingAndGlyphs">ChSO4 A</text>
<rect x="331.75" y="285.55" width="4.2" height="24.35" fill="#aa0a2c"/>
<line x1="333.85" y1="285.55" x2="333.85" y2="284.36" stroke="#111" stroke-width="1.0"/>
<line x1="332.35" y1="284.36" x2="335.35" y2="284.36" stroke="#111" stroke-width="1.2"/>
<rect x="336.75" y="279.31" width="4.2" height="30.59" fill="#e8c01e"/>
<line x1="338.85" y1="279.31" x2="338.85" y2="277.53" stroke="#111" stroke-width="1.0"/>
<line x1="337.35" y1="277.53" x2="340.35" y2="277.53" stroke="#111" stroke-width="1.2"/>
<rect x="341.75" y="246.04" width="4.2" height="63.85" fill="#284a8a"/>
<line x1="343.85" y1="246.04" x2="343.85" y2="242.48" stroke="#111" stroke-width="1.0"/>
<line x1="342.35" y1="242.48" x2="345.35" y2="242.48" stroke="#111" stroke-width="1.2"/>
<rect x="346.75" y="258.52" width="4.2" height="51.38" fill="#62a83e"/>
<line x1="348.85" y1="258.52" x2="348.85" y2="255.55" stroke="#111" stroke-width="1.0"/>
<line x1="347.35" y1="255.55" x2="350.35" y2="255.55" stroke="#111" stroke-width="1.2"/>
<rect x="351.75" y="305.15" width="4.2" height="4.75" fill="#e0891a"/>
<line x1="353.85" y1="305.15" x2="353.85" y2="304.55" stroke="#111" stroke-width="1.0"/>
<line x1="352.35" y1="304.55" x2="355.35" y2="304.55" stroke="#111" stroke-width="1.2"/>
<line x1="343.85" y1="309.90" x2="343.85" y2="313.50" stroke="#1a1a1a" stroke-width="1.3"/>
<text transform="translate(346.25,321.50) rotate(-45)" font-size="7.8" text-anchor="end" fill="#222" textLength="31.40" lengthAdjust="spacingAndGlyphs">Dm SO4</text>
<rect x="359.90" y="289.11" width="4.2" height="20.79" fill="#aa0a2c"/>
<line x1="362.00" y1="289.11" x2="362.00" y2="287.62" stroke="#111" stroke-width="1.0"/>
<line x1="360.50" y1="287.62" x2="363.50" y2="287.62" stroke="#111" stroke-width="1.2"/>
<rect x="364.90" y="292.08" width="4.2" height="17.82" fill="#e8c01e"/>
<line x1="367.00" y1="292.08" x2="367.00" y2="288.81" stroke="#111" stroke-width="1.0"/>
<line x1="365.50" y1="288.81" x2="368.50" y2="288.81" stroke="#111" stroke-width="1.2"/>
<rect x="369.90" y="251.39" width="4.2" height="58.51" fill="#284a8a"/>
<line x1="372.00" y1="251.39" x2="372.00" y2="244.86" stroke="#111" stroke-width="1.0"/>
<line x1="370.50" y1="244.86" x2="373.50" y2="244.86" stroke="#111" stroke-width="1.2"/>
<rect x="374.90" y="276.34" width="4.2" height="33.56" fill="#62a83e"/>
<line x1="377.00" y1="276.34" x2="377.00" y2="275.45" stroke="#111" stroke-width="1.0"/>
<line x1="375.50" y1="275.45" x2="378.50" y2="275.45" stroke="#111" stroke-width="1.2"/>
<rect x="379.90" y="300.99" width="4.2" height="8.91" fill="#e0891a"/>
<line x1="382.00" y1="300.99" x2="382.00" y2="300.40" stroke="#111" stroke-width="1.0"/>
<line x1="380.50" y1="300.40" x2="383.50" y2="300.40" stroke="#111" stroke-width="1.2"/>
<line x1="372.00" y1="309.90" x2="372.00" y2="313.50" stroke="#1a1a1a" stroke-width="1.3"/>
<text transform="translate(374.40,321.50) rotate(-45)" font-size="7.8" text-anchor="end" fill="#222" textLength="36.05" lengthAdjust="spacingAndGlyphs">ChSO4 C</text>
<rect x="388.05" y="292.08" width="4.2" height="17.82" fill="#aa0a2c"/>
<line x1="390.15" y1="292.08" x2="390.15" y2="289.11" stroke="#111" stroke-width="1.0"/>
<line x1="388.65" y1="289.11" x2="391.65" y2="289.11" stroke="#111" stroke-width="1.2"/>
<rect x="393.05" y="286.14" width="4.2" height="23.76" fill="#e8c01e"/>
<line x1="395.15" y1="286.14" x2="395.15" y2="285.25" stroke="#111" stroke-width="1.0"/>
<line x1="393.65" y1="285.25" x2="396.65" y2="285.25" stroke="#111" stroke-width="1.2"/>
<rect x="398.05" y="253.17" width="4.2" height="56.73" fill="#284a8a"/>
<line x1="400.15" y1="253.17" x2="400.15" y2="249.91" stroke="#111" stroke-width="1.0"/>
<line x1="398.65" y1="249.91" x2="401.65" y2="249.91" stroke="#111" stroke-width="1.2"/>
<rect x="403.05" y="239.51" width="4.2" height="70.39" fill="#62a83e"/>
<line x1="405.15" y1="239.51" x2="405.15" y2="230.30" stroke="#111" stroke-width="1.0"/>
<line x1="403.65" y1="230.30" x2="406.65" y2="230.30" stroke="#111" stroke-width="1.2"/>
<rect x="408.05" y="306.93" width="4.2" height="2.97" fill="#e0891a"/>
<line x1="410.15" y1="306.93" x2="410.15" y2="306.34" stroke="#111" stroke-width="1.0"/>
<line x1="408.65" y1="306.34" x2="411.65" y2="306.34" stroke="#111" stroke-width="1.2"/>
<line x1="400.15" y1="309.90" x2="400.15" y2="313.50" stroke="#1a1a1a" stroke-width="1.3"/>
<text transform="translate(402.55,321.50) rotate(-45)" font-size="7.8" text-anchor="end" fill="#222" textLength="27.31" lengthAdjust="spacingAndGlyphs">Dx SO4</text>
<rect x="416.20" y="298.02" width="4.2" height="11.88" fill="#aa0a2c"/>
<line x1="418.30" y1="298.02" x2="418.30" y2="295.05" stroke="#111" stroke-width="1.0"/>
<line x1="416.80" y1="295.05" x2="419.80" y2="295.05" stroke="#111" stroke-width="1.2"/>
<rect x="421.20" y="299.21" width="4.2" height="10.69" fill="#e8c01e"/>
<line x1="423.30" y1="299.21" x2="423.30" y2="294.46" stroke="#111" stroke-width="1.0"/>
<line x1="421.80" y1="294.46" x2="424.80" y2="294.46" stroke="#111" stroke-width="1.2"/>
<rect x="426.20" y="282.58" width="4.2" height="27.32" fill="#284a8a"/>
<line x1="428.30" y1="282.58" x2="428.30" y2="280.50" stroke="#111" stroke-width="1.0"/>
<line x1="426.80" y1="280.50" x2="429.80" y2="280.50" stroke="#111" stroke-width="1.2"/>
<rect x="431.20" y="281.39" width="4.2" height="28.51" fill="#62a83e"/>
<line x1="433.30" y1="281.39" x2="433.30" y2="279.31" stroke="#111" stroke-width="1.0"/>
<line x1="431.80" y1="279.31" x2="434.80" y2="279.31" stroke="#111" stroke-width="1.2"/>
<rect x="436.20" y="305.15" width="4.2" height="4.75" fill="#e0891a"/>
<line x1="438.30" y1="305.15" x2="438.30" y2="304.55" stroke="#111" stroke-width="1.0"/>
<line x1="436.80" y1="304.55" x2="439.80" y2="304.55" stroke="#111" stroke-width="1.2"/>
<line x1="428.30" y1="309.90" x2="428.30" y2="313.50" stroke="#1a1a1a" stroke-width="1.3"/>
<text transform="translate(430.70,321.50) rotate(-45)" font-size="7.8" text-anchor="end" fill="#222" textLength="46.40" lengthAdjust="spacingAndGlyphs">heparan SO4</text>
<text transform="translate(283.20,303.70) rotate(-90)" font-size="8.8" fill="#222" class="c" textLength="60.26" lengthAdjust="spacingAndGlyphs">Anti-PRT/heparin (A</text>
<text transform="translate(285.00,243.24) rotate(-90)" font-size="6.6" fill="#222" class="c" textLength="15.90" lengthAdjust="spacingAndGlyphs">450nm</text>
<text transform="translate(283.20,227.14) rotate(-90)" font-size="8.8" fill="#222" class="c" textLength="2.63" lengthAdjust="spacingAndGlyphs">)</text>
<rect x="447.2" y="231.8" width="12.2" height="6.2" fill="#aa0a2c"/>
<text x="462.20" y="237.90" font-size="7.6" text-anchor="start" fill="#222" textLength="19.70" lengthAdjust="spacingAndGlyphs">CPB1</text>
<rect x="447.2" y="243.8" width="12.2" height="6.2" fill="#e8c01e"/>
<text x="462.20" y="249.90" font-size="7.6" text-anchor="start" fill="#222" textLength="19.70" lengthAdjust="spacingAndGlyphs">CPB2</text>
<rect x="447.2" y="255.4" width="12.2" height="6.2" fill="#284a8a"/>
<text x="462.20" y="261.50" font-size="7.6" text-anchor="start" fill="#222" textLength="19.70" lengthAdjust="spacingAndGlyphs">CPB3</text>
<rect x="447.2" y="267.1" width="12.2" height="6.2" fill="#62a83e"/>
<text x="462.20" y="273.20" font-size="7.6" text-anchor="start" fill="#222" textLength="19.70" lengthAdjust="spacingAndGlyphs">CPB4</text>
<rect x="447.2" y="278.4" width="12.2" height="6.2" fill="#e0891a"/>
<text x="462.20" y="284.50" font-size="7.2" text-anchor="start" fill="#222" textLength="21.80" lengthAdjust="spacingAndGlyphs">Normal</text>
</svg>
</body></html>
